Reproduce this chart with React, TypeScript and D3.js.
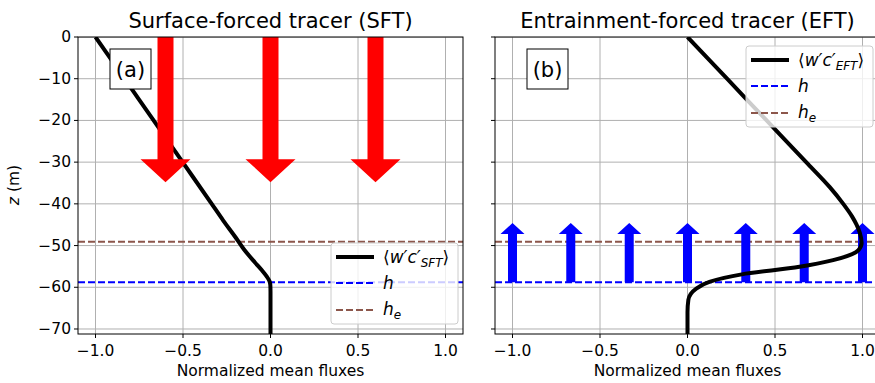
import * as d3 from "d3";

// depth ticks (m) and flux ticks
const zTicks = [0, -10, -20, -30, -40, -50, -60, -70];
const fluxTicks = [-1, -0.5, 0, 0.5, 1];

// surface-forced tracer flux profile
const sftZ = [0, -10, -20, -30, -40, -44, -48, -51, -54, -56, -57.5, -58.5, -59.5, -61, -65, -71.2];
const sftFlux = [-1.0, -0.834, -0.668, -0.502, -0.336, -0.27, -0.2, -0.15, -0.09, -0.048, -0.02, -0.006, -0.001, 0, 0, 0];

// entrainment-forced tracer flux profile
const eftZ = [0, -10, -20, -30, -36, -40, -43, -45, -47, -49.4, -51.1, -53.5, -55.1, -56.9, -58.7, -60.3, -63, -66, -71.2];
const eftFlux = [0, 0.226, 0.452, 0.678, 0.813, 0.89, 0.94, 0.966, 0.985, 0.995, 0.977, 0.832, 0.64, 0.31, 0.125, 0.05, 0.005, 0, 0];

const hDepth = -58.8;
const heDepth = -49.1;

const redArrowX = [-0.6, 0, 0.6];
const redArrowTip = -34.8;
const blueArrowX = [-1, -0.667, -0.333, 0, 0.333, 0.667, 1];
const blueArrowTip = -44.6;

const font = "DejaVu Sans";
const top = 37;
const bottom = 334;

function arrowPoints(cx, y0, y1, shaft, head, headLen) {
  const dir = y1 > y0 ? 1 : -1;
  const yb = y1 - dir * headLen;
  return [
    [cx - shaft / 2, y0],
    [cx + shaft / 2, y0],
    [cx + shaft / 2, yb],
    [cx + head / 2, yb],
    [cx, y1],
    [cx - head / 2, yb],
    [cx - shaft / 2, yb],
  ]
    .map((p) => p.join(","))
    .join(" ");
}

function Panel({ left, right, title, tag, zs, fluxes, arrows, sub, legendBox, showY }) {
  const x = d3.scaleLinear().domain([-1.1, 1.1]).range([left, right]);
  const y = d3.scaleLinear().domain([0, -71.2]).range([top, bottom]);
  const line = d3
    .line()
    .x((d) => x(d[1]))
    .y((d) => y(d[0]))
    .curve(d3.curveMonotoneY);
  const pts = zs.map((z, i) => [z, fluxes[i]]);
  const fx = d3.format(".1f");
  const fz = d3.format("d");
  const cx = (left + right) / 2;

  const arrowEls = arrows.xs.map((v, i) => (
    <polygon
      key={i}
      points={arrowPoints(x(v), y(arrows.from), y(arrows.to), arrows.shaft, arrows.head, arrows.headLen)}
      fill={arrows.color}
    />
  ));
  const curve = <path d={line(pts)} fill="none" stroke="black" strokeWidth={4} strokeLinejoin="round" />;

  const lx = legendBox[0];
  const ly = legendBox[1];
  return (
    <g fontFamily={font}>
      <defs>
        <clipPath id={"clip" + tag}>
          <rect x={left} y={top} width={right - left} height={bottom - top} />
        </clipPath>
      </defs>
      <g clipPath={`url(#clip${tag})`}>
        {fluxTicks.map((t) => (
          <line key={"gx" + t} x1={x(t)} x2={x(t)} y1={top} y2={bottom} stroke="#b0b0b0" strokeWidth={1} />
        ))}
        {zTicks.map((t) => (
          <line key={"gy" + t} x1={left} x2={right} y1={y(t)} y2={y(t)} stroke="#b0b0b0" strokeWidth={1} />
        ))}
        <line x1={left} x2={right} y1={y(hDepth)} y2={y(hDepth)} stroke="#0000ff" strokeWidth={2} strokeDasharray="7,3" />
        <line x1={left} x2={right} y1={y(heDepth)} y2={y(heDepth)} stroke="#8c564b" strokeWidth={2} strokeDasharray="7,3" />
        {arrows.above ? curve : null}
        {arrowEls}
        {arrows.above ? null : curve}
      </g>
      <rect x={left} y={top} width={right - left} height={bottom - top} fill="none" stroke="black" strokeWidth={1} />
      {fluxTicks.map((t) => (
        <g key={"tx" + t}>
          <line x1={x(t)} x2={x(t)} y1={bottom} y2={bottom + 4} stroke="black" />
          <text x={x(t)} y={356} textAnchor="middle" fontSize={15.5}>
            {fx(t)}
          </text>
        </g>
      ))}
      {zTicks.map((t) => (
        <g key={"ty" + t}>
          <line x1={left - 4} x2={left} y1={y(t)} y2={y(t)} stroke="black" />
          {showY ? (
            <text x={left - 7} y={y(t)} textAnchor="end" dominantBaseline="central" fontSize={15.5}>
              {fz(t)}
            </text>
          ) : null}
        </g>
      ))}
      <text x={cx} y={28} textAnchor="middle" fontSize={21}>
        {title}
      </text>
      <text x={x(0)} y={376} textAnchor="middle" fontSize={15.5}>
        Normalized mean fluxes
      </text>
      <rect x={x(-1.1) + 32} y={49} width={41} height={40} fill="white" stroke="black" strokeWidth={1} />
      <text x={x(-1.1) + 52.5} y={70} textAnchor="middle" dominantBaseline="central" fontSize={21}>
        ({tag})
      </text>
      <g>
        <rect x={lx} y={ly} width={127} height={81} rx={3} fill="white" fillOpacity={0.8} stroke="#cccccc" strokeWidth={1} />
        <line x1={lx + 5} x2={lx + 43} y1={ly + 14} y2={ly + 14} stroke="black" strokeWidth={4} />
        <text x={lx + 52} y={ly + 20} fontSize={17}>
          ⟨<tspan fontStyle="italic">w′c′</tspan>
          <tspan fontStyle="italic" fontSize={12} dy={4}>
            {sub}
          </tspan>
          <tspan dy={-4}>⟩</tspan>
        </text>
        <line x1={lx + 5} x2={lx + 43} y1={ly + 40} y2={ly + 40} stroke="#0000ff" strokeWidth={2} strokeDasharray="7,3" />
        <text x={lx + 52} y={ly + 46} fontSize={17} fontStyle="italic">
          h
        </text>
        <line x1={lx + 5} x2={lx + 43} y1={ly + 67} y2={ly + 67} stroke="#8c564b" strokeWidth={2} strokeDasharray="7,3" />
        <text x={lx + 52} y={ly + 72} fontSize={17} fontStyle="italic">
          h
          <tspan fontSize={12} dy={4}>
            e
          </tspan>
        </text>
      </g>
    </g>
  );
}

export default function App() {
  return (
    <svg width={875} height={383} style={{ position: "absolute", left: 0, top: 0, background: "white" }}>
      <Panel
        left={78}
        right={463}
        title="Surface-forced tracer (SFT)"
        tag="a"
        zs={sftZ}
        fluxes={sftFlux}
        arrows={{ xs: redArrowX, from: 0, to: redArrowTip, shaft: 16, head: 50, headLen: 23, color: "#ff0000", above: true }}
        sub="SFT"
        legendBox={[331, 243]}
        showY={true}
      />
      <Panel
        left={495}
        right={880}
        title="Entrainment-forced tracer (EFT)"
        tag="b"
        zs={eftZ}
        fluxes={eftFlux}
        arrows={{ xs: blueArrowX, from: hDepth, to: blueArrowTip, shaft: 9, head: 24, headLen: 11, color: "#0000ff", above: false }}
        sub="EFT"
        legendBox={[746, 46]}
        showY={false}
      />
      <text x={14} y={185} transform="rotate(-90 14 185)" textAnchor="middle" dominantBaseline="central" fontSize={15.5} fontFamily={font}>
        <tspan fontStyle="italic">z</tspan> (m)
      </text>
    </svg>
  );
}
